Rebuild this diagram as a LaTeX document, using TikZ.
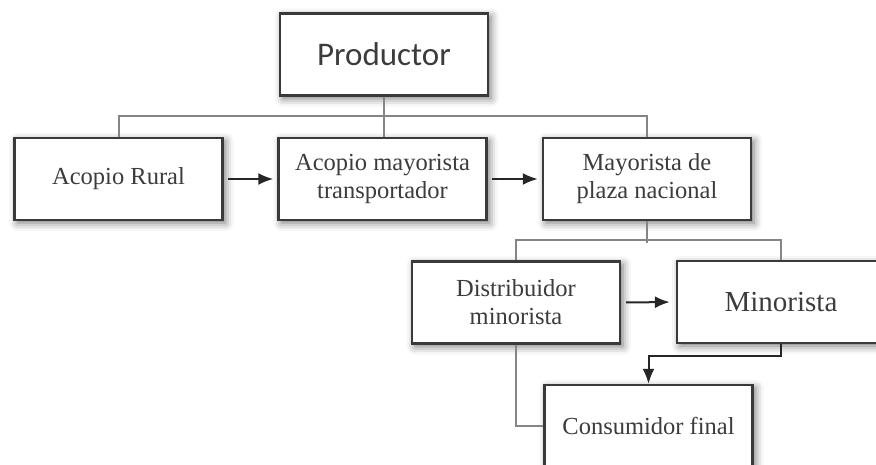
\documentclass[tikz,border=0pt]{standalone}
\usepackage{fontspec}
\setmainfont{Liberation Serif}
\newfontfamily\prodfont{Carlito}
\usetikzlibrary{arrows.meta,shadows.blur}

\definecolor{boxline}{HTML}{3A3A3A}
\definecolor{linkgray}{HTML}{858585}
\definecolor{txtgray}{HTML}{3C3C3C}

\begin{document}
\begin{tikzpicture}[x=1pt, y=-1pt,
    every node/.style={font=\fontsize{24.5}{28}\selectfont, text=txtgray},
    caja/.style={draw=boxline, line width=2.4pt, fill=white, align=center,
      minimum width=208pt, minimum height=82pt, inner sep=0pt,
      blur shadow={shadow xshift=3pt, shadow yshift=-3pt, shadow blur radius=8pt, shadow opacity=55}},
    link/.style={draw=linkgray, line width=2pt},
    flecha/.style={draw=black!85, line width=2pt, -{Latex[length=15pt,width=12pt]}}]
  \useasboundingbox (0,0) rectangle (876,464);

  % nivel 1
  \node[caja, font=\prodfont\fontsize{33}{38}\selectfont] (prod) at (384,54.5) {Productor};

  % nivel 2
  \node[caja] (rural) at (118.5,179) {Acopio Rural};
  \node[caja] (acopio) at (382.5,179) {Acopio mayorista\\transportador};
  \node[caja] (mayor) at (647,179) {Mayorista de\\plaza nacional};

  % nivel 3
  \node[caja] (distrib) at (516,302.5) {Distribuidor\\minorista};
  \node[caja, font=\fontsize{29}{33}\selectfont] (minor) at (781,302) {Minorista};
  \node[caja] (consum) at (648.5,426) {Consumidor final};

  % conexiones
  \draw[link] (prod.south) -- (prod.south |- acopio.north);
  \draw[link] (rural.north) -- ++(0,-21) -| (mayor.north);
  \draw[link] (mayor.south) -- ++(0,22);
  \draw[link] (distrib.north) -- ++(0,-20) -| (minor.north);
  \draw[link] (distrib.south) |- (consum.west);

  \draw[flecha, shorten <=4pt, shorten >=4pt] (rural.east) -- (acopio.west);
  \draw[flecha, shorten <=4pt, shorten >=4pt] (acopio.east) -- (mayor.west);
  \draw[flecha, shorten <=5pt, shorten >=6pt] (distrib.east) -- (minor.west);
  \draw[flecha] (minor.south) -- ++(0,12) -| (consum.north);
\end{tikzpicture}
\end{document}
